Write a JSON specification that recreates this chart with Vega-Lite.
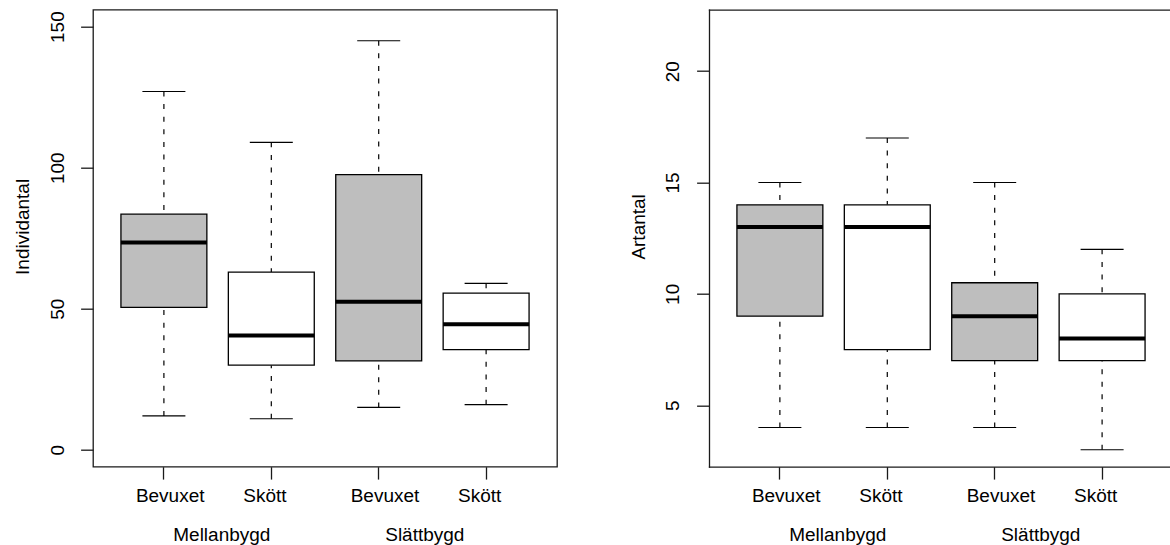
{
  "$schema": "https://vega.github.io/schema/vega-lite/v6.json",
  "padding": {"left": 12, "top": 8.7, "right": 0, "bottom": 0},
  "background": "white",
  "datasets": {
    "individ": [
      {"grupp": "Mellanbygd Bevuxet", "skotsel": "Bevuxet", "lo": 12, "q1": 50.5, "med": 73.5, "q3": 83.5, "hi": 127},
      {"grupp": "Mellanbygd Skött", "skotsel": "Skött", "lo": 11, "q1": 30, "med": 40.5, "q3": 63, "hi": 109},
      {"grupp": "Slättbygd Bevuxet", "skotsel": "Bevuxet", "lo": 15, "q1": 31.5, "med": 52.5, "q3": 97.5, "hi": 145},
      {"grupp": "Slättbygd Skött", "skotsel": "Skött", "lo": 16, "q1": 35.5, "med": 44.5, "q3": 55.5, "hi": 59}
    ],
    "art": [
      {"grupp": "Mellanbygd Bevuxet", "skotsel": "Bevuxet", "lo": 4, "q1": 9, "med": 13, "q3": 14, "hi": 15},
      {"grupp": "Mellanbygd Skött", "skotsel": "Skött", "lo": 4, "q1": 7.5, "med": 13, "q3": 14, "hi": 17},
      {"grupp": "Slättbygd Bevuxet", "skotsel": "Bevuxet", "lo": 4, "q1": 7, "med": 9, "q3": 10.5, "hi": 15},
      {"grupp": "Slättbygd Skött", "skotsel": "Skött", "lo": 3, "q1": 7, "med": 8, "q3": 10, "hi": 12}
    ],
    "bygder": [
      {"bygd": "Mellanbygd"},
      {"bygd": "Slättbygd"}
    ]
  },
  "hconcat": [
    {
      "width": 464,
      "height": 457,
      "layer": [
        {
          "data": {"name": "individ"},
          "encoding": {
            "x": {
              "field": "grupp", "type": "nominal", "sort": null, "title": null,
              "scale": {"type": "band", "paddingInner": 0.2, "paddingOuter": 0.26},
              "axis": {"labelExpr": "split(datum.label, ' ')[1]", "labelAlign": "left", "labelOffset": -28, "labelPadding": 22.9}
            }
          },
          "layer": [
            {
              "mark": {"type": "rule", "strokeDash": [5, 7.6], "strokeWidth": 1.2, "color": "black"},
              "encoding": {
                "y": {"field": "hi", "type": "quantitative", "title": "Individantal",
                      "scale": {"domain": [-6, 156], "nice": false, "zero": false},
                      "axis": {"values": [0, 50, 100, 150]}},
                "y2": {"field": "q3"}
              }
            },
            {
              "mark": {"type": "rule", "strokeDash": [5, 7.6], "strokeWidth": 1.2, "color": "black"},
              "encoding": {
                "y": {"field": "lo", "type": "quantitative", "title": "Individantal"},
                "y2": {"field": "q1"}
              }
            },
            {
              "mark": {"type": "tick", "size": 43, "thickness": 1.2, "color": "black", "opacity": 1},
              "encoding": {"y": {"field": "hi", "type": "quantitative", "title": "Individantal"}}
            },
            {
              "mark": {"type": "tick", "size": 43, "thickness": 1.2, "color": "black", "opacity": 1},
              "encoding": {"y": {"field": "lo", "type": "quantitative", "title": "Individantal"}}
            },
            {
              "mark": {"type": "rect", "stroke": "black", "strokeWidth": 1.3, "opacity": 1},
              "encoding": {
                "y": {"field": "q1", "type": "quantitative", "title": "Individantal"},
                "y2": {"field": "q3"},
                "fill": {"field": "skotsel", "type": "nominal", "legend": null,
                         "scale": {"domain": ["Bevuxet", "Skött"], "range": ["#bebebe", "#ffffff"]}}
              }
            },
            {
              "mark": {"type": "tick", "size": 86, "thickness": 4, "color": "black", "opacity": 1},
              "encoding": {"y": {"field": "med", "type": "quantitative", "title": "Individantal"}}
            }
          ]
        },
        {
          "data": {"name": "bygder"},
          "mark": {"type": "point", "opacity": 0},
          "encoding": {
            "x": {
              "field": "bygd", "type": "nominal", "sort": null, "title": null,
              "scale": {"type": "point", "range": [128.3, 331.3], "padding": 0},
              "axis": {"orient": "bottom", "ticks": false, "tickSize": 0, "labelPadding": 73.8, "labelAlign": "center"}
            }
          }
        }
      ],
      "resolve": {"scale": {"x": "independent"}}
    },
    {
      "width": 464,
      "height": 457,
      "view": {"stroke": null},
      "layer": [
        {
          "data": {"name": "art"},
          "encoding": {
            "x": {
              "field": "grupp", "type": "nominal", "sort": null, "title": null,
              "scale": {"type": "band", "paddingInner": 0.2, "paddingOuter": 0.26},
              "axis": {"labelExpr": "split(datum.label, ' ')[1]", "labelAlign": "left", "labelOffset": -28, "labelPadding": 22.9,
                       "domain": true, "domainColor": "#1a1a1a", "domainWidth": 1.3, "domainCap": "square"}
            }
          },
          "layer": [
            {
              "mark": {"type": "rule", "strokeDash": [5, 7.6], "strokeWidth": 1.2, "color": "black"},
              "encoding": {
                "y": {"field": "hi", "type": "quantitative", "title": "Artantal",
                      "scale": {"domain": [2.24, 22.76], "nice": false, "zero": false},
                      "axis": {"values": [5, 10, 15, 20], "domain": true, "domainColor": "#1a1a1a", "domainWidth": 1.3, "domainCap": "square"}},
                "y2": {"field": "q3"}
              }
            },
            {
              "mark": {"type": "rule", "strokeDash": [5, 7.6], "strokeWidth": 1.2, "color": "black"},
              "encoding": {
                "y": {"field": "lo", "type": "quantitative", "title": "Artantal"},
                "y2": {"field": "q1"}
              }
            },
            {
              "mark": {"type": "tick", "size": 43, "thickness": 1.2, "color": "black", "opacity": 1},
              "encoding": {"y": {"field": "hi", "type": "quantitative", "title": "Artantal"}}
            },
            {
              "mark": {"type": "tick", "size": 43, "thickness": 1.2, "color": "black", "opacity": 1},
              "encoding": {"y": {"field": "lo", "type": "quantitative", "title": "Artantal"}}
            },
            {
              "mark": {"type": "rect", "stroke": "black", "strokeWidth": 1.3, "opacity": 1},
              "encoding": {
                "y": {"field": "q1", "type": "quantitative", "title": "Artantal"},
                "y2": {"field": "q3"},
                "fill": {"field": "skotsel", "type": "nominal", "legend": null,
                         "scale": {"domain": ["Bevuxet", "Skött"], "range": ["#bebebe", "#ffffff"]}}
              }
            },
            {
              "mark": {"type": "tick", "size": 86, "thickness": 4, "color": "black", "opacity": 1},
              "encoding": {"y": {"field": "med", "type": "quantitative", "title": "Artantal"}}
            }
          ]
        },
        {
          "data": {"name": "bygder"},
          "mark": {"type": "point", "opacity": 0},
          "encoding": {
            "x": {
              "field": "bygd", "type": "nominal", "sort": null, "title": null,
              "scale": {"type": "point", "range": [128.3, 331.3], "padding": 0},
              "axis": {"orient": "bottom", "ticks": false, "tickSize": 0, "labelPadding": 73.8, "labelAlign": "center"}
            }
          }
        },
        {
          "data": {"name": "bygder"},
          "mark": {"type": "point", "opacity": 0},
          "encoding": {
            "x": {
              "field": "bygd", "type": "nominal", "sort": null, "title": null,
              "scale": {"type": "band"},
              "axis": {"orient": "top", "labels": false, "ticks": false, "domain": true,
                       "domainColor": "#1a1a1a", "domainWidth": 1.3, "domainCap": "square"}
            }
          }
        }
      ],
      "resolve": {"scale": {"x": "independent"}}
    }
  ],
  "spacing": 152,
  "bounds": "flush",
  "config": {
    "font": "Liberation Sans",
    "view": {"stroke": "#1a1a1a", "strokeWidth": 1.3},
    "axis": {
      "labelFont": "Liberation Sans", "titleFont": "Liberation Sans",
      "labelFontSize": 19, "titleFontSize": 19, "titleFontWeight": "normal",
      "labelColor": "black", "titleColor": "black",
      "tickColor": "#1a1a1a", "tickWidth": 1.3, "tickSize": 12.4,
      "domain": false, "grid": false,
      "labelOverlap": false, "labelFlush": false, "labelBound": false
    },
    "axisY": {
      "labelAngle": 270, "labelAlign": "center", "labelBaseline": "alphabetic", "labelPadding": 17.6,
      "titleAngle": 270, "titleAlign": "center", "titleBaseline": "alphabetic",
      "titleX": -64.7, "titleY": 216.7
    },
    "axisX": {"labelAngle": 0, "labelBaseline": "alphabetic"}
  }
}
